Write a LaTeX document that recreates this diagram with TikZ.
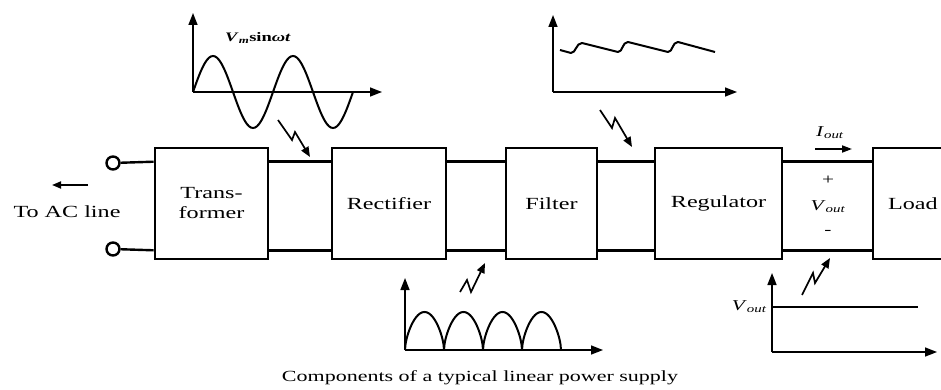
\documentclass[tikz,border=0pt]{standalone}
\usepackage{fontspec}
\setmainfont{Liberation Serif}[FakeStretch=1.42]
\usetikzlibrary{arrows.meta}
\tikzset{
  blk/.style={draw, line width=2.6pt, minimum height=111pt, inner sep=0pt, align=center, font=\fontsize{17}{20}\selectfont},
  wire/.style={line width=2.4pt},
  term/.style={circle, draw, line width=2.4pt, minimum size=13pt, inner sep=0pt},
  axis/.style={line width=1.6pt, -{Triangle[length=12pt,width=9pt]}},
  wave/.style={line width=2pt},
  bolt/.style={line width=1.7pt, -{Triangle[length=10pt,width=8pt]}},
  lbl/.style={inner sep=1pt, font=\fontsize{17}{20}\selectfont},
  small/.style={inner sep=1pt, font=\fontsize{15}{18}\selectfont},
}
\begin{document}
\begin{tikzpicture}[x=1pt,y=-1pt]
\clip (0,0) rectangle (941,390);
\fill[white] (0,0) rectangle (941,390);
% blocks
\node[blk, minimum width=113pt] (T) at (211.5,203.5) {Trans-\\former};
\node[blk, minimum width=114pt] (R) at (389,203.5) {Rectifier};
\node[blk, minimum width=91pt] (F) at (551.5,203.5) {Filter};
\node[blk, minimum width=127pt] (G) at (718.5,203.5) {Regulator};
\node[blk, minimum width=100pt, text width=70pt, align=left] (L) at (923,203.5) {Load};
% terminals
\node[term] (t1) at (113,163) {};
\node[term] (t2) at (113,249) {};
\draw[wire] (t1) -- ([yshift=-15pt]T.north west);
\draw[wire] (t2) -- ([yshift=10pt]T.south west);
\draw[wire] ([yshift=-15pt]T.north east) -- ([yshift=-15pt]R.north west);
\draw[wire] ([yshift=10pt]T.south east) -- ([yshift=10pt]R.south west);
\draw[wire] ([yshift=-15pt]R.north east) -- ([yshift=-15pt]F.north west);
\draw[wire] ([yshift=10pt]R.south east) -- ([yshift=10pt]F.south west);
\draw[wire] ([yshift=-15pt]F.north east) -- ([yshift=-15pt]G.north west);
\draw[wire] ([yshift=10pt]F.south east) -- ([yshift=10pt]G.south west);
\draw[wire] ([yshift=-15pt]G.north east) -- ([yshift=-15pt]L.north west);
\draw[wire] ([yshift=10pt]G.south east) -- ([yshift=10pt]L.south west);
% AC line
\coordinate (ac1) at (88,185);
\coordinate (ac2) at (52,185);
\draw[line width=1.8pt, -{Triangle[length=9pt,width=7pt]}] (ac1) -- (ac2);
\node[lbl] (acl) at (67,212) {To AC line};
% output labels
\node[small] (io) at (830,133) {\textit{I}\textsubscript{\textit{out}}};
\coordinate (ia) at (815,149);
\coordinate (ib) at (852,149);
\draw[line width=1.8pt, -{Triangle[length=10pt,width=7pt]}] (ia) -- (ib);
\node[small] (pl) at (828,180) {+};
\node[small] (vo) at (828,207) {\textit{V}\textsubscript{\textit{out}}};
\node[small] (mi) at (828,232) {-};
% sine plot
\coordinate (so) at (193,92);
\coordinate (sy) at (193,13);
\coordinate (sx) at (382,92);
\draw[axis] (so) -- (sy);
\draw[axis] (so) -- (sx);
\draw[wave] plot[domain=0:160, samples=81, smooth] ({193+\x}, {92-36*sin(\x*4.5)});
\node[inner sep=1pt, font=\fontsize{13}{15}\selectfont\bfseries] (vm) at (258,38) {\textit{V}\textsubscript{\textit{m}}sin\textit{ωt}};
% filter output plot
\coordinate (fo) at (553,92);
\coordinate (fy) at (553,15);
\coordinate (fx) at (737,92);
\draw[axis] (fo) -- (fy);
\draw[axis] (fo) -- (fx);
\draw[wave, line join=round] (560,50) -- (571,53) .. controls (576,53) and (576,43) .. (582,43)
  -- (618,52) .. controls (623,52) and (622,42) .. (628,42)
  -- (668,52) .. controls (673,52) and (672,42) .. (678,42) -- (715,52);
% rectifier output plot
\coordinate (ro) at (405,350);
\coordinate (ry) at (405,278);
\coordinate (rx) at (603,350);
\draw[axis] (ro) -- (ry);
\draw[axis] (ro) -- (rx);
\draw[wave] plot[domain=0:156, samples=313] ({405+\x}, {350-38*(abs(sin(\x*4.6154)))^0.6});
% regulator output plot
\coordinate (go) at (772,352);
\coordinate (gy) at (772,273);
\coordinate (gx) at (937,352);
\draw[axis] (go) -- (gy);
\draw[axis] (go) -- (gx);
\draw[line width=2.4pt] (772,307) -- (918,307);
\node[small, anchor=east] (vl) at (768,307) {\textit{V}\textsubscript{\textit{out}}};
% bolts
\draw[bolt] (278,120) -- (292,140) -- (295,132) -- (310,157);
\draw[bolt] (600,110) -- (612,128) -- (615,118) -- (632,147);
\draw[bolt] (460,292) -- (467,280) -- (471,292) -- (485,263);
\draw[bolt] (802,295) -- (813,273) -- (815,283) -- (830,258);
% caption
\node[inner sep=0pt, font=\fontsize{15.5}{18}\selectfont] (cap) at (480,378) {Components of a typical linear power supply};
\end{tikzpicture}
\end{document}
